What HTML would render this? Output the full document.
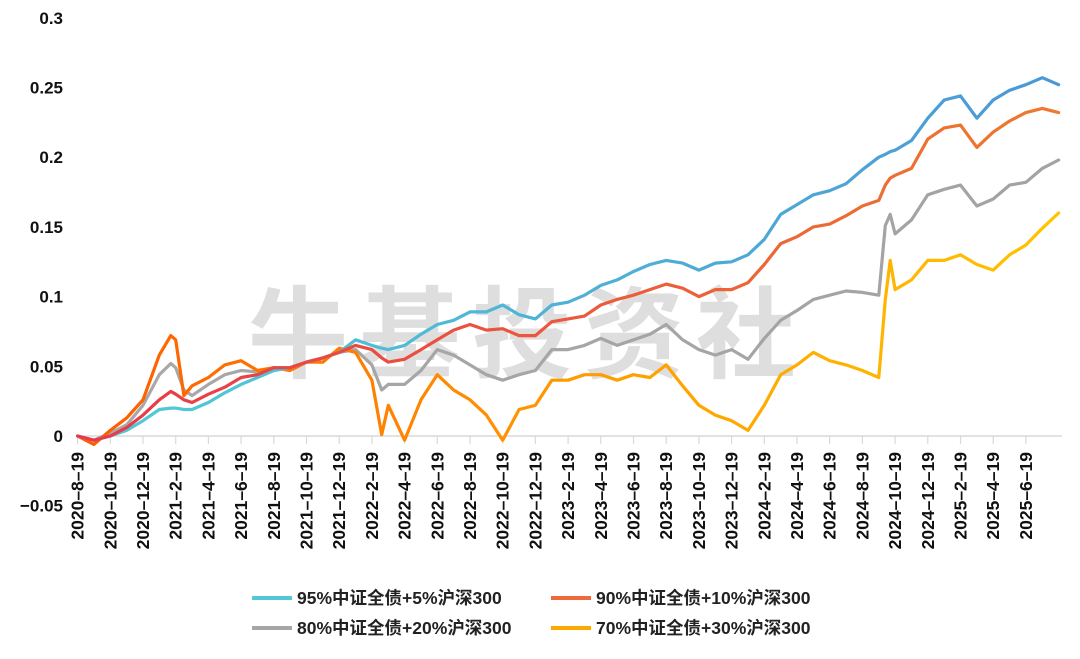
<!DOCTYPE html>
<html><head><meta charset="utf-8">
<style>
html,body{margin:0;padding:0;background:#fff;}
svg{display:block;font-family:"Liberation Sans","Noto Sans CJK SC",sans-serif;}
</style></head>
<body>
<svg id="chart" width="1080" height="659" viewBox="0 0 1080 659" xmlns="http://www.w3.org/2000/svg">
<defs>
<linearGradient id="gBlue" gradientUnits="userSpaceOnUse" x1="78" y1="0" x2="1062" y2="0"><stop offset="0" stop-color="#52ccd6"/><stop offset="1" stop-color="#4a98d6"/></linearGradient>
<linearGradient id="gRed" gradientUnits="userSpaceOnUse" x1="78" y1="0" x2="1062" y2="0"><stop offset="0" stop-color="#e8384a"/><stop offset="1" stop-color="#ee7a2e"/></linearGradient>
<linearGradient id="gGray" gradientUnits="userSpaceOnUse" x1="78" y1="0" x2="1062" y2="0"><stop offset="0" stop-color="#a8a8a8"/><stop offset="1" stop-color="#a3a3a3"/></linearGradient>
<linearGradient id="gOrange" gradientUnits="userSpaceOnUse" x1="78" y1="0" x2="1062" y2="0"><stop offset="0" stop-color="#ff5a00"/><stop offset="0.5" stop-color="#ff9a00"/><stop offset="1" stop-color="#ffc400"/></linearGradient>
</defs>
<text x="248" y="370" font-size="100" font-weight="bold" fill="#dedede" letter-spacing="12" font-family="'Noto Sans CJK SC',sans-serif">牛基投资社</text>
<g id="axes"></g>
<g id="series"></g>
<g id="legend"></g>
</svg>
<script>
const months = [0,1,2,3,4,5,5.7,6,6.5,7,8,9,10,11,12,13,14,15,16,17,18,18.6,19,20,21,22,23,24,25,26,27,28,29,30,31,32,33,34,35,36,37,38,39,40,41,42,43,44,45,46,47,48,49,49.4,49.7,50,51,52,53,54,55,56,57,58,59,60];
const s95 = [0,-0.003,0,0.004,0.011,0.019,0.020,0.020,0.019,0.019,0.024,0.031,0.037,0.042,0.047,0.049,0.053,0.056,0.060,0.069,0.065,0.063,0.062,0.065,0.073,0.080,0.083,0.089,0.089,0.094,0.087,0.084,0.094,0.096,0.101,0.108,0.112,0.118,0.123,0.126,0.124,0.119,0.124,0.125,0.130,0.141,0.159,0.166,0.173,0.176,0.181,0.191,0.200,0.202,0.204,0.205,0.212,0.228,0.241,0.244,0.228,0.241,0.248,0.252,0.257,0.252];
const s90 = [0,-0.003,0,0.006,0.015,0.026,0.032,0.030,0.026,0.024,0.030,0.035,0.042,0.044,0.049,0.049,0.053,0.056,0.060,0.065,0.062,0.056,0.053,0.055,0.062,0.069,0.076,0.080,0.076,0.077,0.072,0.072,0.082,0.084,0.086,0.094,0.098,0.101,0.105,0.109,0.106,0.100,0.105,0.105,0.110,0.123,0.138,0.143,0.150,0.152,0.158,0.165,0.169,0.180,0.185,0.187,0.192,0.213,0.221,0.223,0.207,0.218,0.226,0.232,0.235,0.232];
const s80 = [0,-0.003,0.002,0.008,0.022,0.044,0.052,0.049,0.033,0.029,0.037,0.044,0.047,0.046,0.049,0.049,0.053,0.056,0.060,0.062,0.051,0.033,0.037,0.037,0.047,0.062,0.058,0.051,0.044,0.040,0.044,0.047,0.062,0.062,0.065,0.070,0.065,0.069,0.073,0.080,0.069,0.062,0.058,0.062,0.055,0.070,0.083,0.090,0.098,0.101,0.104,0.103,0.101,0.151,0.159,0.145,0.155,0.173,0.177,0.180,0.165,0.170,0.180,0.182,0.192,0.198];
const s70 = [0,-0.006,0.004,0.013,0.026,0.058,0.072,0.069,0.029,0.036,0.042,0.051,0.054,0.047,0.049,0.047,0.053,0.053,0.063,0.060,0.040,0.001,0.022,-0.003,0.026,0.044,0.033,0.026,0.015,-0.003,0.019,0.022,0.040,0.040,0.044,0.044,0.040,0.044,0.042,0.051,0.036,0.022,0.015,0.011,0.004,0.022,0.044,0.051,0.060,0.054,0.051,0.047,0.042,0.098,0.126,0.105,0.112,0.126,0.126,0.130,0.123,0.119,0.130,0.137,0.149,0.160];
const yTicks = [0.3,0.25,0.2,0.15,0.1,0.05,0,-0.05];
const yTickLabels = ["0.3","0.25","0.2","0.15","0.1","0.05","0","\u22120.05"];
const xTickLabels = ["2020-8-19","2020-10-19","2020-12-19","2021-2-19","2021-4-19","2021-6-19","2021-8-19","2021-10-19","2021-12-19","2022-2-19","2022-4-19","2022-6-19","2022-8-19","2022-10-19","2022-12-19","2023-2-19","2023-4-19","2023-6-19","2023-8-19","2023-10-19","2023-12-19","2024-2-19","2024-4-19","2024-6-19","2024-8-19","2024-10-19","2024-12-19","2025-2-19","2025-4-19","2025-6-19"];
const legendNames = ["95%中证全债+5%沪深300","90%中证全债+10%沪深300","80%中证全债+20%沪深300","70%中证全债+30%沪深300"];

const NS="http://www.w3.org/2000/svg";
function xs(m){return 77.6+16.35*m;}
function ys(v){return 436-v*1394;}
function mk(tag,attrs,parent){const e=document.createElementNS(NS,tag);for(const k in attrs)e.setAttribute(k,attrs[k]);parent.appendChild(e);return e;}
const axes=document.getElementById('axes');
const ax=mk('line',{x1:77,y1:436,x2:1062,y2:436,stroke:'#d9d9d9','stroke-width':1.5},axes);


yTicks.forEach((v,i)=>{
  const t=mk('text',{x:63,y:ys(v)+6,'text-anchor':'end','font-size':17,'font-weight':'bold',fill:'#111'},axes);
  t.textContent=yTickLabels[i];
  
  
});
xTickLabels.forEach((lab,i)=>{
  const x=xs(i*2);
  const tk=mk('line',{x1:x,y1:436,x2:x,y2:444,stroke:'#d9d9d9','stroke-width':1.2},axes);
  
  
  const t=mk('text',{x:0,y:0,'text-anchor':'end','font-size':17.5,'font-weight':'bold',fill:'#111',transform:`translate(${x+6},452) rotate(-90)`},axes);
  t.textContent=lab.replace(/-/g,'\u2013');
  
  
});
const series=[[s80,'url(#gGray)','series-80'],[s70,'url(#gOrange)','series-70'],[s95,'url(#gBlue)','series-95'],[s90,'url(#gRed)','series-90']];
const sg=document.getElementById('series');
series.forEach(([d,c,n])=>{
  const n2=Math.min(d.length,months.length);
  let p='';
  for(let i=0;i<n2;i++)p+=(i?'L':'M')+xs(months[i]).toFixed(1)+' '+ys(d[i]).toFixed(1);
  const path=mk('path',{d:p,fill:'none',stroke:c,'stroke-width':3.2,'stroke-linejoin':'round','stroke-linecap':'round'},sg);
  
  
});
const lg=document.getElementById('legend');
const lcol=['#52c8d6','#ee6a3a','#a6a6a6','#ffa800'];
const lpos=[[252,598],[551,598],[252,628],[551,628]];
legendNames.forEach((nm,i)=>{
  const [x,y]=lpos[i];
  const g=mk('g',{},lg);
  
  
  mk('line',{x1:x,y1:y,x2:x+40,y2:y,stroke:lcol[i],'stroke-width':4},g);
  const t=mk('text',{x:x+45,y:y+6,'font-size':17.5,'font-weight':'bold',fill:'#222'},g);
  t.textContent=nm;
});
</script>
</body></html>
